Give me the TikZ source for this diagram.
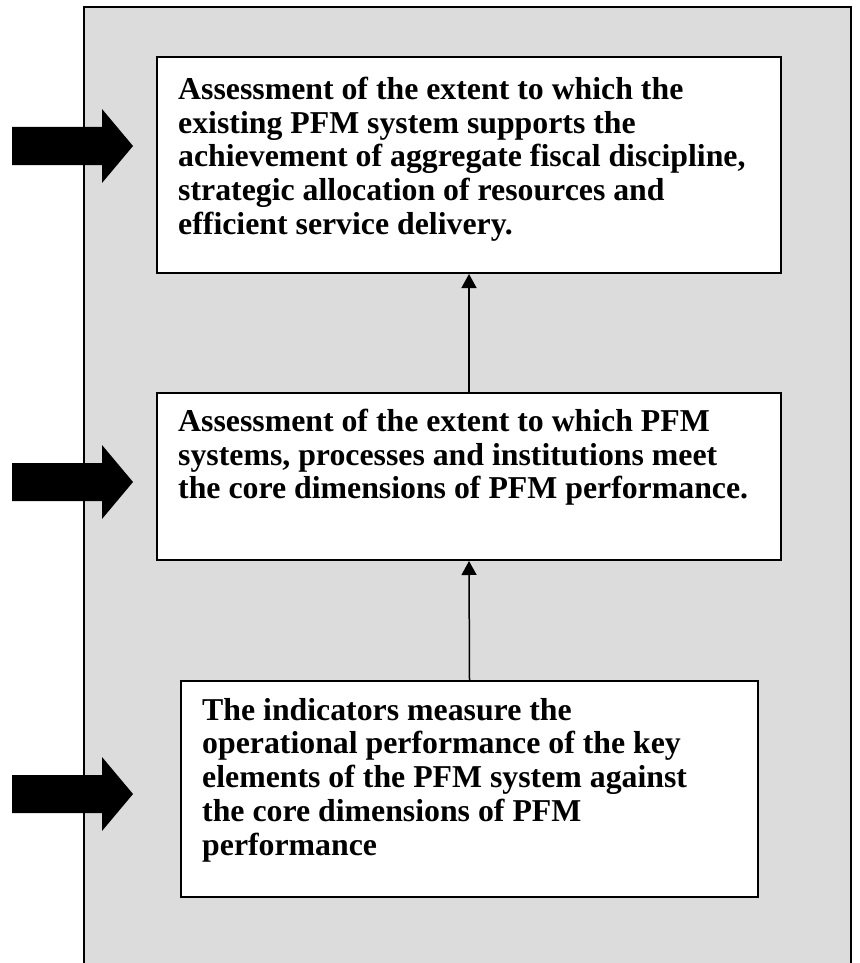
\documentclass[tikz,border=0pt]{standalone}
\usepackage{fontspec}
\setmainfont{Liberation Serif}
\usetikzlibrary{arrows.meta}
\definecolor{panelgray}{RGB}{220,220,220}
\tikzset{
  panel/.style={fill=panelgray, draw=black, line width=1.5pt},
  box/.style={draw=black, fill=white, line width=2pt, inner sep=0pt, anchor=north west},
  txt/.style={align=left, inner sep=0pt, anchor=north west, font=\bfseries\fontsize{31.8pt}{33.7pt}\selectfont},
  conn/.style={draw=black, line width=1.5pt, -{Triangle[width=15pt,length=14pt]}},
  blockarrow/.pic={\fill[black] (0,-19) -- (90,-19) -- (90,-37) -- (121,0) -- (90,37) -- (90,19) -- (0,19) -- cycle;}
}
\begin{document}
\begin{tikzpicture}[x=1pt, y=-1pt]
\useasboundingbox (0,0) rectangle (859,963);
\begin{scope}
\clip (0,0) rectangle (859,963);
\path[panel] (84,7) rectangle (851,990);
\end{scope}
\node[box, minimum width=624pt, minimum height=216pt] (b1) at (156,56) {};
\node[box, minimum width=624pt, minimum height=167pt] (b2) at (156,392) {};
\node[box, minimum width=577pt, minimum height=216pt] (b3) at (180,680) {};
\node[txt] (t1) at (178,77) {Assessment of the extent to which the\\existing PFM system supports the\\achievement of aggregate fiscal discipline,\\strategic allocation of resources and\\efficient service delivery.};
\node[txt] (t2) at (178,409) {Assessment of the extent to which PFM\\systems, processes and institutions meet\\the core dimensions of PFM performance.};
\node[txt] (t3) at (202,698) {The indicators measure the\\operational performance of the key\\elements of the PFM system against\\the core dimensions of PFM\\performance};
\draw[conn] (b2.north) -- (b1.south);
\draw[conn] (b3.north) -- (b2.south);
\pic (a1) at (12,146) {blockarrow};
\pic (a2) at (12,482) {blockarrow};
\pic (a3) at (12,794) {blockarrow};
\end{tikzpicture}
\end{document}
